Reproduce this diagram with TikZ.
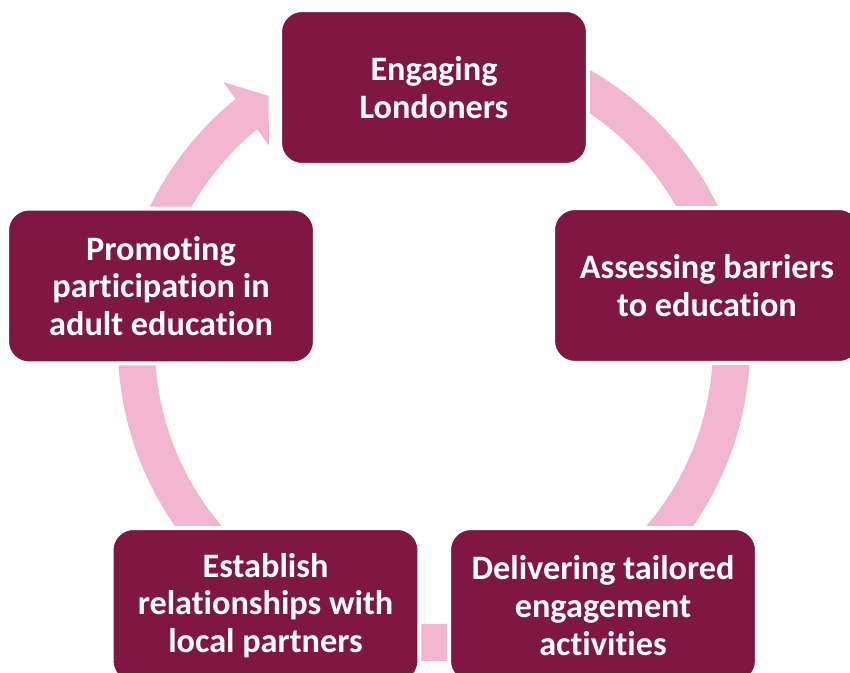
\documentclass[tikz,border=0pt]{standalone}
\usepackage{fontspec}
\setmainfont{Carlito}[Ligatures=NoCommon]
\usepackage{tikz}
\usetikzlibrary{calc}
\definecolor{wine}{RGB}{128,23,67}
\definecolor{blush}{RGB}{242,182,208}
\tikzset{
    stage/.style={rectangle, rounded corners=0.44cm, fill=wine, draw=white,
        line width=0.08cm, minimum width=6.16cm, minimum height=3.1cm,
        text=white, align=center,
        font=\bfseries\fontsize{19.5}{21.5}\selectfont}
}

\begin{document}
\begin{tikzpicture}[x=0.02cm, y=0.02cm]
    \useasboundingbox (0,0) rectangle (850,673);
    \coordinate (hub) at (434,328);
    % Ring
    \draw[blush, line width=0.74cm] (hub) ++(80:297.5)
        arc[start angle=80, end angle=-231.5, radius=297.5];
    \fill[blush] ($(hub)+(128.7:337)$) -- ($(hub)+(123.6:299)$)
        -- ($(hub)+(129.6:259)$) -- cycle;
    % Stages
    \node[stage](c*0) at (434,585.5) {Engaging\\Londoners};
    \node[stage](c*1) at (707,387.5) {Assessing barriers\\to education};
    \node[stage](c*2) at (603,67.5)  {Delivering tailored\\engagement\\activities};
    \node[stage](c*3) at (265.5,67.5) {Establish\\relationships with\\local partners};
    \node[stage](c*4) at (161,387)   {Promoting\\participation in\\adult education};
\end{tikzpicture}
\end{document}
